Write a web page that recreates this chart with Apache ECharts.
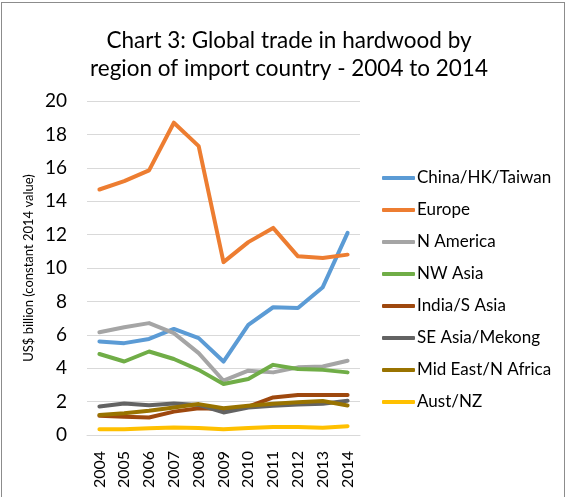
<!DOCTYPE html>
<html>
<head>
<meta charset="utf-8">
<script src="https://cdn.jsdelivr.net/npm/echarts@6/dist/echarts.min.js"></script>
<style>
  html, body { margin: 0; padding: 0; background: #fff; }
  #frame { position: absolute; left: 1px; top: 2px; width: 564px; height: 497px; border: 1px solid #8c8c8c; box-sizing: border-box; }
  #chart { position: absolute; left: 0; top: 0; width: 567px; height: 497px; }
</style>
</head>
<body>
<div id="frame"></div>
<div id="chart"></div>
<script>
// Hardwood import value by region, US$ billion (constant 2014 value)
const years = ['2004','2005','2006','2007','2008','2009','2010','2011','2012','2013','2014'];

const chinaHkTaiwan = [5.6, 5.5, 5.75, 6.35, 5.8, 4.4, 6.6, 7.65, 7.6, 8.85, 12.1];
const europe        = [14.7, 15.2, 15.85, 18.7, 17.3, 10.35, 11.55, 12.4, 10.7, 10.6, 10.8];
const nAmerica      = [6.15, 6.45, 6.7, 6.1, 4.9, 3.25, 3.85, 3.75, 4.05, 4.1, 4.45];
const nwAsia        = [4.85, 4.4, 5.0, 4.55, 3.9, 3.05, 3.35, 4.2, 3.95, 3.9, 3.75];
const indiaSAsia    = [1.15, 1.1, 1.05, 1.4, 1.6, 1.55, 1.7, 2.25, 2.4, 2.4, 2.4];
const seAsiaMekong  = [1.7, 1.88, 1.78, 1.88, 1.8, 1.35, 1.65, 1.75, 1.82, 1.87, 2.05];
const midEastNAfr   = [1.2, 1.3, 1.45, 1.65, 1.85, 1.6, 1.75, 1.87, 1.96, 2.04, 1.77];
const austNz        = [0.34, 0.34, 0.4, 0.45, 0.42, 0.34, 0.42, 0.48, 0.48, 0.43, 0.53];

const yTicks = { min: 0, max: 20, step: 2 };

const seriesDefs = [
  ['China/HK/Taiwan', chinaHkTaiwan, '#5B9BD5'],
  ['Europe', europe, '#ED7D31'],
  ['N America', nAmerica, '#A5A5A5'],
  ['NW Asia', nwAsia, '#70AD47'],
  ['India/S Asia', indiaSAsia, '#9E480E'],
  ['SE Asia/Mekong', seAsiaMekong, '#636363'],
  ['Mid East/N Africa', midEastNAfr, '#997300'],
  ['Aust/NZ', austNz, '#FFC000']
];

const font = 'Lato, "Open Sans", sans-serif';
const chart = echarts.init(document.getElementById('chart'), null, { renderer: 'canvas' });

chart.setOption({
  animation: false,
  backgroundColor: 'transparent',
  title: {
    text: 'Chart 3: Global trade in hardwood by\nregion of import country - 2004 to 2014',
    left: 284,
    top: 22,
    textAlign: 'center',
    textStyle: { fontFamily: font, fontSize: 22.5, fontWeight: 'normal', color: '#000', lineHeight: 28 }
  },
  legend: {
    orient: 'vertical',
    left: 382,
    top: 168,
    padding: 0,
    itemWidth: 33,
    itemHeight: 4,
    itemGap: 12,
    icon: 'roundRect',
    textStyle: { fontFamily: font, fontSize: 17, color: '#000', lineHeight: 20, padding: [0, 0, 0, -3] },
    data: seriesDefs.map(d => d[0])
  },
  grid: { left: 87, right: 207, top: 101, bottom: 62, containLabel: false },
  xAxis: {
    type: 'category',
    data: years,
    boundaryGap: true,
    axisLine: { show: true, lineStyle: { color: '#d9d9d9', width: 1 } },
    axisTick: { show: false },
    axisLabel: { rotate: 90, fontFamily: font, fontSize: 16, color: '#000', margin: 16 }
  },
  yAxis: {
    type: 'value',
    min: yTicks.min,
    max: yTicks.max,
    interval: yTicks.step,
    name: 'US$ billion (constant 2014 value)',
    nameLocation: 'middle',
    nameGap: 52,
    nameRotate: 90,
    nameTextStyle: { fontFamily: font, fontSize: 13, color: '#000' },
    axisLine: { show: false },
    axisTick: { show: false },
    axisLabel: { fontFamily: font, fontSize: 19, color: '#000', margin: 20 },
    splitLine: { lineStyle: { color: '#d9d9d9', width: 1 } }
  },
  series: seriesDefs.map(([name, data, color]) => ({
    name: name,
    type: 'line',
    data: data,
    symbol: 'none',
    showSymbol: false,
    color: color,
    lineStyle: { color: color, width: 4, cap: 'round', join: 'round' },
    itemStyle: { color: color }
  }))
});
</script>
</body>
</html>
